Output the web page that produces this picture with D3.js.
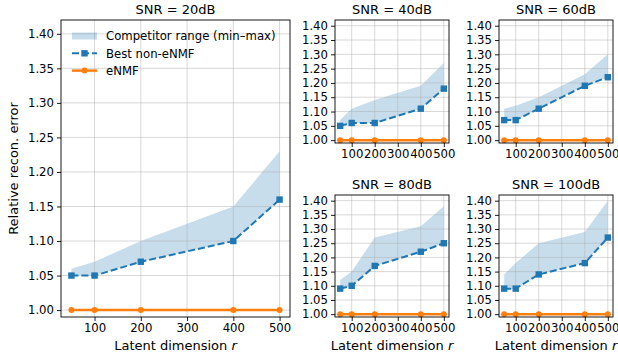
<!DOCTYPE html>
<html>
<head>
<meta charset="utf-8">
<script src="https://cdn.jsdelivr.net/npm/d3@7"></script>
<style>
  body { margin: 0; background: #fff; }
  svg text { font-family: "DejaVu Sans", sans-serif; fill: #000; }
</style>
</head>
<body>
<svg id="chart" width="618" height="360"></svg>
<script>
// latent dimensions (x values) shared by all panels
const dims = [50, 100, 200, 400, 500];
const xTicks = [100, 200, 300, 400, 500];
const yTicks = [1.00, 1.05, 1.10, 1.15, 1.20, 1.25, 1.30, 1.35, 1.40];
const titles = ["SNR = 20dB", "SNR = 40dB", "SNR = 60dB", "SNR = 80dB", "SNR = 100dB"];

// best competitor (= lower edge of the range) per SNR
const best20 = [1.05, 1.05, 1.07, 1.10, 1.16];
const best40 = [1.05, 1.06, 1.06, 1.11, 1.18];
const best60 = [1.07, 1.07, 1.11, 1.19, 1.22];
const best80 = [1.09, 1.10, 1.17, 1.22, 1.25];
const best100 = [1.09, 1.09, 1.14, 1.18, 1.27];

// worst competitor (upper edge of the range)
const worst20 = [1.06, 1.07, 1.10, 1.15, 1.23];
const worst40 = [1.07, 1.11, 1.14, 1.19, 1.27];
const worst60 = [1.11, 1.12, 1.15, 1.23, 1.30];
const worst80 = [1.12, 1.15, 1.27, 1.31, 1.38];
const worst100 = [1.14, 1.18, 1.25, 1.29, 1.40];

const enmf = [1.00, 1.00, 1.00, 1.00, 1.00];

const legendLabels = ["Competitor range (min\u2013max)", "Best non-eNMF", "eNMF"];

const blue = "#1f77b4", orange = "#ff7f0e";
const svg = d3.select("#chart");

function panel(box, title, best, worst, opts) {
  const x = d3.scaleLinear().domain([27.5, 522.5]).range([box.x0, box.x1]);
  const y = d3.scaleLinear().domain([0.99, 1.42]).range([box.y1, box.y0]);
  const g = svg.append("g");

  const rows = dims.map((d, i) => ({ d: d, lo: best[i], hi: worst[i], b: best[i], e: enmf[i] }));

  // band
  g.append("path")
    .datum(rows)
    .attr("fill", blue)
    .attr("fill-opacity", 0.25)
    .attr("d", d3.area().x(r => x(r.d)).y0(r => y(r.lo)).y1(r => y(r.hi)));

  // grid
  g.selectAll(".gx").data(xTicks).enter().append("line")
    .attr("x1", d => x(d)).attr("x2", d => x(d))
    .attr("y1", box.y0).attr("y2", box.y1)
    .attr("stroke", "#b0b0b0").attr("stroke-opacity", 0.55).attr("stroke-width", 0.9);
  g.selectAll(".gy").data(yTicks).enter().append("line")
    .attr("x1", box.x0).attr("x2", box.x1)
    .attr("y1", d => y(d)).attr("y2", d => y(d))
    .attr("stroke", "#b0b0b0").attr("stroke-opacity", 0.55).attr("stroke-width", 0.9);

  // best non-eNMF
  g.append("path")
    .datum(rows)
    .attr("fill", "none")
    .attr("stroke", blue)
    .attr("stroke-width", 2)
    .attr("stroke-dasharray", "7,3")
    .attr("d", d3.line().x(r => x(r.d)).y(r => y(r.b)));
  g.selectAll(".sq").data(rows).enter().append("rect")
    .attr("x", r => x(r.d) - 3.2).attr("y", r => y(r.b) - 3.2)
    .attr("width", 6.4).attr("height", 6.4)
    .attr("fill", blue);

  // eNMF
  g.append("path")
    .datum(rows)
    .attr("fill", "none")
    .attr("stroke", orange)
    .attr("stroke-width", 2.5)
    .attr("d", d3.line().x(r => x(r.d)).y(r => y(r.e)));
  g.selectAll(".ci").data(rows).enter().append("circle")
    .attr("cx", r => x(r.d)).attr("cy", r => y(r.e)).attr("r", 3)
    .attr("fill", orange);

  // axes
  const ax = g.append("g")
    .attr("transform", `translate(0,${box.y1})`)
    .call(d3.axisBottom(x).tickValues(xTicks).tickFormat(d3.format("d")).tickSize(4).tickPadding(3));
  const ay = g.append("g")
    .attr("transform", `translate(${box.x0},0)`)
    .call(d3.axisLeft(y).tickValues(yTicks).tickFormat(d3.format(".2f")).tickSize(4).tickPadding(3));
  [ax, ay].forEach(a => {
    a.select(".domain").remove();
    a.selectAll("line").attr("stroke", "#000").attr("stroke-width", 0.9);
    a.selectAll("text").style("font-size", "11.7px").attr("fill", "#000");
  });

  // frame
  g.append("rect")
    .attr("x", box.x0).attr("y", box.y0)
    .attr("width", box.x1 - box.x0).attr("height", box.y1 - box.y0)
    .attr("fill", "none").attr("stroke", "#000").attr("stroke-width", 0.9);

  g.append("text")
    .attr("x", (box.x0 + box.x1) / 2).attr("y", box.y0 - 6)
    .attr("text-anchor", "middle")
    .style("font-size", "13px")
    .text(title);

  if (opts.xlabel) {
    const t = g.append("text")
      .attr("x", (box.x0 + box.x1) / 2).attr("y", box.y1 + 33)
      .attr("text-anchor", "middle")
      .style("font-size", "13px")
      .text("Latent dimension ");
    t.append("tspan").style("font-style", "italic").text("r");
  }
  if (opts.ylabel) {
    g.append("text")
      .attr("transform", `translate(18,${(box.y0 + box.y1) / 2}) rotate(-90)`)
      .attr("text-anchor", "middle")
      .style("font-size", "13px")
      .text("Relative recon. error");
  }
  if (opts.legend) {
    const lx = box.x0 + 11, ly = box.y0 + 16, dy = 17.3;
    const lg = g.append("g");
    lg.append("rect").attr("x", lx).attr("y", ly - 3.5).attr("width", 25).attr("height", 7)
      .attr("fill", blue).attr("fill-opacity", 0.25);
    lg.append("line").attr("x1", lx).attr("x2", lx + 25).attr("y1", ly + dy).attr("y2", ly + dy)
      .attr("stroke", blue).attr("stroke-width", 2).attr("stroke-dasharray", "7,3");
    lg.append("rect").attr("x", lx + 9.3).attr("y", ly + dy - 3.2).attr("width", 6.4).attr("height", 6.4)
      .attr("fill", blue);
    lg.append("line").attr("x1", lx).attr("x2", lx + 25).attr("y1", ly + 2 * dy).attr("y2", ly + 2 * dy)
      .attr("stroke", orange).attr("stroke-width", 2.5);
    lg.append("circle").attr("cx", lx + 12.5).attr("cy", ly + 2 * dy).attr("r", 3).attr("fill", orange);
    lg.selectAll("text").data(legendLabels).enter().append("text")
      .attr("x", lx + 34).attr("y", (d, i) => ly + i * dy + 4.2)
      .style("font-size", "11.7px")
      .text(d => d);
  }
}

panel({ x0: 61, x1: 290, y0: 20, y1: 317 }, titles[0], best20, worst20, { xlabel: true, ylabel: true, legend: true });
panel({ x0: 335, x1: 449, y0: 20, y1: 143 }, titles[1], best40, worst40, {});
panel({ x0: 499, x1: 613, y0: 20, y1: 143 }, titles[2], best60, worst60, {});
panel({ x0: 335, x1: 449, y0: 195, y1: 317 }, titles[3], best80, worst80, { xlabel: true });
panel({ x0: 499, x1: 613, y0: 195, y1: 317 }, titles[4], best100, worst100, { xlabel: true });
</script>
</body>
</html>
